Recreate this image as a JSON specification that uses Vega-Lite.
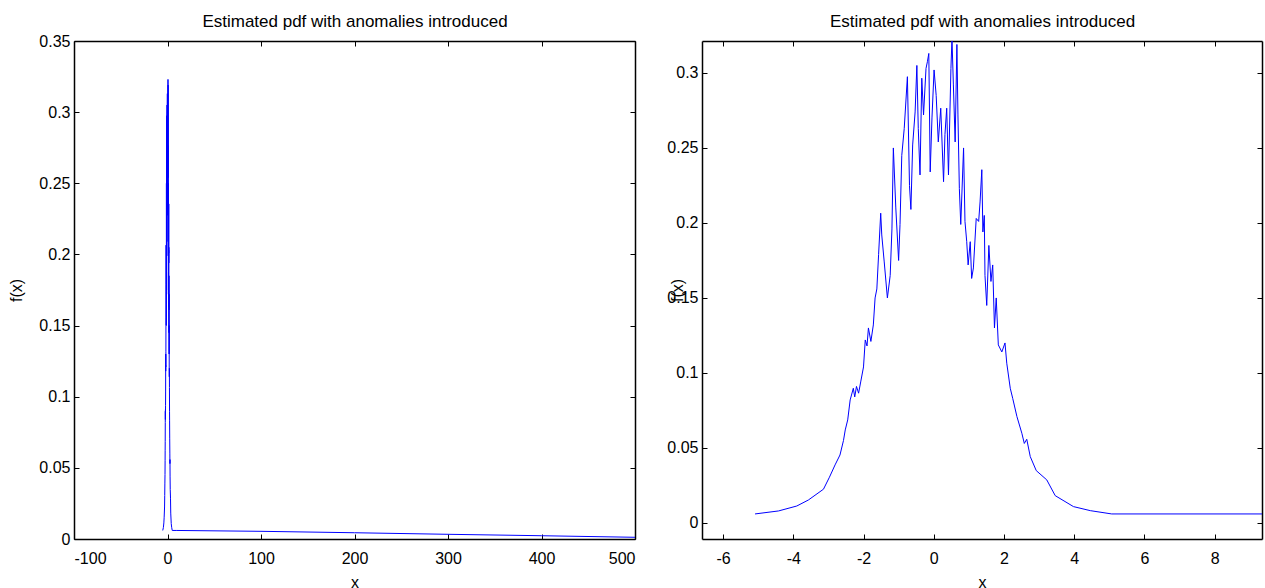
{
  "$schema": "https://vega.github.io/schema/vega-lite/v6.json",
  "background": "white",
  "padding": {"left": 8, "top": 12, "right": 0, "bottom": 0},
  "bounds": "flush",
  "spacing": 67,
  "config": {
    "font": "Liberation Sans",
    "view": {"stroke": null},
    "axis": {
      "domainColor": "black", "domainWidth": 1.5, "tickColor": "black", "tickWidth": 1,
      "labelColor": "black", "labelFontSize": 16, "labelFont": "Liberation Sans",
      "titleColor": "black", "titleFontSize": 16, "titleFontWeight": "normal", "titleFont": "Liberation Sans",
      "grid": false, "tickSize": -5, "minExtent": 0, "labelExpr": "'' + datum.value"
    }
  },
  "datasets": {
    "pdf": [
      {"x": -5.09, "y": 0.006}, {"x": -4.42, "y": 0.008}, {"x": -3.9, "y": 0.0113}, {"x": -3.57, "y": 0.0153},
      {"x": -3.14, "y": 0.0225}, {"x": -2.97, "y": 0.0305}, {"x": -2.81, "y": 0.0387}, {"x": -2.67, "y": 0.0453},
      {"x": -2.57, "y": 0.055}, {"x": -2.52, "y": 0.062}, {"x": -2.45, "y": 0.0687}, {"x": -2.38, "y": 0.082},
      {"x": -2.29, "y": 0.0898}, {"x": -2.25, "y": 0.084}, {"x": -2.2, "y": 0.091}, {"x": -2.14, "y": 0.0865},
      {"x": -2.08, "y": 0.094}, {"x": -2.0, "y": 0.104}, {"x": -1.95, "y": 0.122}, {"x": -1.9, "y": 0.118},
      {"x": -1.86, "y": 0.13}, {"x": -1.79, "y": 0.121}, {"x": -1.72, "y": 0.132}, {"x": -1.67, "y": 0.15},
      {"x": -1.62, "y": 0.156}, {"x": -1.57, "y": 0.179}, {"x": -1.51, "y": 0.2065}, {"x": -1.48, "y": 0.192},
      {"x": -1.41, "y": 0.174}, {"x": -1.32, "y": 0.15}, {"x": -1.24, "y": 0.165}, {"x": -1.19, "y": 0.196},
      {"x": -1.15, "y": 0.25}, {"x": -1.08, "y": 0.21}, {"x": -1.0, "y": 0.175}, {"x": -0.96, "y": 0.199},
      {"x": -0.91, "y": 0.245}, {"x": -0.84, "y": 0.263}, {"x": -0.75, "y": 0.2975}, {"x": -0.69, "y": 0.225},
      {"x": -0.65, "y": 0.209}, {"x": -0.6, "y": 0.252}, {"x": -0.53, "y": 0.274}, {"x": -0.48, "y": 0.305},
      {"x": -0.44, "y": 0.263}, {"x": -0.39, "y": 0.232}, {"x": -0.34, "y": 0.2965}, {"x": -0.29, "y": 0.272},
      {"x": -0.22, "y": 0.303}, {"x": -0.18, "y": 0.3075}, {"x": -0.14, "y": 0.313}, {"x": -0.1, "y": 0.234},
      {"x": -0.05, "y": 0.27}, {"x": 0.01, "y": 0.302}, {"x": 0.07, "y": 0.285}, {"x": 0.13, "y": 0.254},
      {"x": 0.2, "y": 0.2765}, {"x": 0.28, "y": 0.2275}, {"x": 0.32, "y": 0.259}, {"x": 0.37, "y": 0.2765},
      {"x": 0.42, "y": 0.232}, {"x": 0.49, "y": 0.303}, {"x": 0.52, "y": 0.323}, {"x": 0.56, "y": 0.292},
      {"x": 0.61, "y": 0.254}, {"x": 0.66, "y": 0.319}, {"x": 0.69, "y": 0.272}, {"x": 0.73, "y": 0.223},
      {"x": 0.77, "y": 0.199}, {"x": 0.85, "y": 0.25}, {"x": 0.89, "y": 0.201}, {"x": 0.94, "y": 0.1875},
      {"x": 0.98, "y": 0.172}, {"x": 1.04, "y": 0.1875}, {"x": 1.08, "y": 0.163}, {"x": 1.13, "y": 0.17},
      {"x": 1.21, "y": 0.203}, {"x": 1.28, "y": 0.201}, {"x": 1.32, "y": 0.214}, {"x": 1.37, "y": 0.2355},
      {"x": 1.4, "y": 0.194}, {"x": 1.44, "y": 0.205}, {"x": 1.46, "y": 0.165}, {"x": 1.51, "y": 0.145},
      {"x": 1.57, "y": 0.185}, {"x": 1.63, "y": 0.161}, {"x": 1.68, "y": 0.172}, {"x": 1.73, "y": 0.13},
      {"x": 1.78, "y": 0.15}, {"x": 1.84, "y": 0.1187}, {"x": 1.94, "y": 0.114}, {"x": 2.03, "y": 0.12},
      {"x": 2.08, "y": 0.1065}, {"x": 2.18, "y": 0.0898}, {"x": 2.25, "y": 0.083}, {"x": 2.37, "y": 0.0709},
      {"x": 2.51, "y": 0.0598}, {"x": 2.58, "y": 0.053}, {"x": 2.65, "y": 0.0558}, {"x": 2.75, "y": 0.0442},
      {"x": 2.92, "y": 0.0349}, {"x": 3.22, "y": 0.0287}, {"x": 3.46, "y": 0.0182}, {"x": 3.98, "y": 0.0109},
      {"x": 4.46, "y": 0.0082}, {"x": 5.07, "y": 0.006}, {"x": 10, "y": 0.006}, {"x": 100, "y": 0.0054},
      {"x": 200, "y": 0.0044}, {"x": 300, "y": 0.0033}, {"x": 400, "y": 0.0023}, {"x": 500, "y": 0.0012}
    ]
  },
  "hconcat": [
    {
      "width": 561, "height": 498,
      "data": {"name": "pdf"},
      "layer": [
        {
          "mark": {"type": "line", "color": "#0000ff", "strokeWidth": 1, "clip": true},
          "encoding": {
            "x": {"field": "x", "type": "quantitative", "scale": {"domain": [-100, 500], "nice": false, "zero": false},
                  "axis": {"orient": "bottom", "values": [-100, 0, 100, 200, 300, 400, 500], "title": "x", "labelPadding": 16, "titleY": 48, "titleBaseline": "alphabetic"}},
            "y": {"field": "y", "type": "quantitative", "scale": {"domain": [0, 0.35], "nice": false, "zero": false},
                  "axis": {"orient": "left", "values": [0, 0.05, 0.1, 0.15, 0.2, 0.25, 0.3, 0.35], "title": "f(x)", "labelPadding": 9, "titleX": -58, "titleY": 249, "titleBaseline": "middle", "titleAngle": -90, "titleAlign": "center"}}
          }
        },
        {
          "mark": {"type": "line", "opacity": 0},
          "encoding": {
            "x": {"field": "x", "type": "quantitative", "scale": {"domain": [-100, 500], "nice": false, "zero": false},
                  "axis": {"orient": "top", "values": [-100, 0, 100, 200, 300, 400, 500], "labels": false, "title": "Estimated pdf with anomalies introduced", "titleFontSize": 17, "titleY": -15, "titleBaseline": "alphabetic"}},
            "y": {"field": "y", "type": "quantitative", "scale": {"domain": [0, 0.35], "nice": false, "zero": false},
                  "axis": {"orient": "right", "values": [0, 0.05, 0.1, 0.15, 0.2, 0.25, 0.3, 0.35], "labels": false, "title": null}}
          }
        }
      ],
      "resolve": {"scale": {"x": "independent", "y": "independent"}, "axis": {"x": "independent", "y": "independent"}}
    },
    {
      "width": 560, "height": 498,
      "data": {"name": "pdf"},
      "layer": [
        {
          "mark": {"type": "line", "color": "#0000ff", "strokeWidth": 1, "clip": true},
          "encoding": {
            "x": {"field": "x", "type": "quantitative", "scale": {"domain": [-6.6, 9.35], "nice": false, "zero": false},
                  "axis": {"orient": "bottom", "values": [-6, -4, -2, 0, 2, 4, 6, 8], "title": "x", "labelPadding": 16, "titleY": 48, "titleBaseline": "alphabetic"}},
            "y": {"field": "y", "type": "quantitative", "scale": {"domain": [-0.0107, 0.3213], "nice": false, "zero": false},
                  "axis": {"orient": "left", "values": [0, 0.05, 0.1, 0.15, 0.2, 0.25, 0.3], "title": "f(x)", "labelPadding": 9, "titleX": -25, "titleY": 249, "titleBaseline": "middle", "titleAngle": -90, "titleAlign": "center"}}
          }
        },
        {
          "mark": {"type": "line", "opacity": 0},
          "encoding": {
            "x": {"field": "x", "type": "quantitative", "scale": {"domain": [-6.6, 9.35], "nice": false, "zero": false},
                  "axis": {"orient": "top", "values": [-6, -4, -2, 0, 2, 4, 6, 8], "labels": false, "title": "Estimated pdf with anomalies introduced", "titleFontSize": 17, "titleY": -15, "titleBaseline": "alphabetic"}},
            "y": {"field": "y", "type": "quantitative", "scale": {"domain": [-0.0107, 0.3213], "nice": false, "zero": false},
                  "axis": {"orient": "right", "values": [0, 0.05, 0.1, 0.15, 0.2, 0.25, 0.3], "labels": false, "title": null}}
          }
        }
      ],
      "resolve": {"scale": {"x": "independent", "y": "independent"}, "axis": {"x": "independent", "y": "independent"}}
    }
  ]
}
